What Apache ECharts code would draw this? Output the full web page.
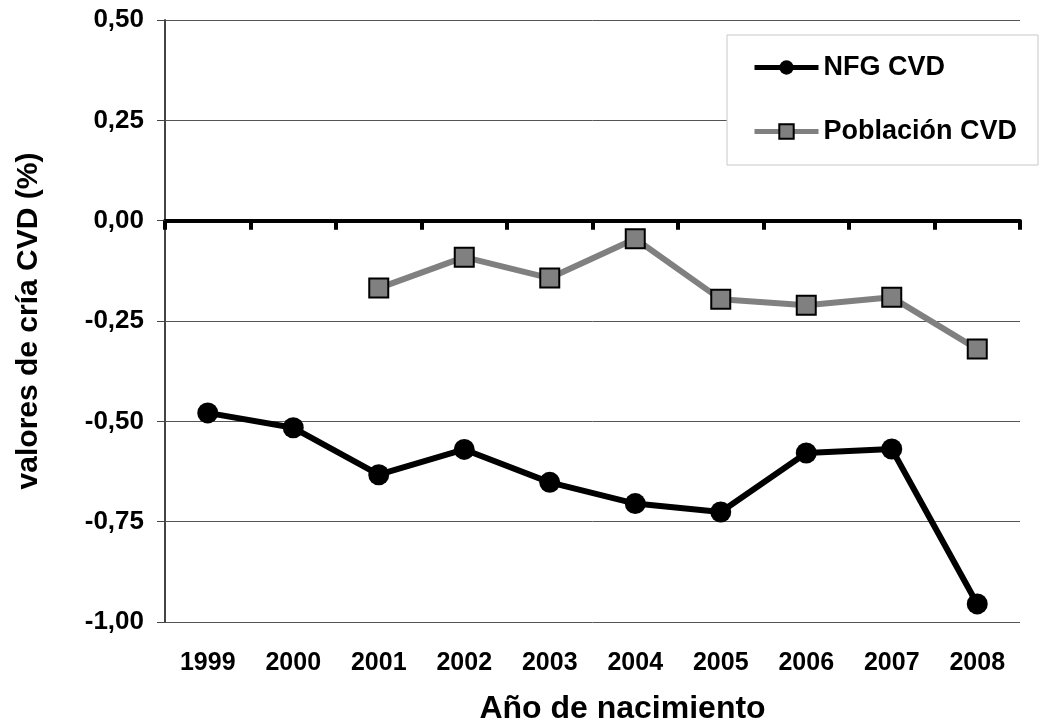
<!DOCTYPE html>
<html>
<head>
<meta charset="utf-8">
<script src="https://cdn.jsdelivr.net/npm/echarts@6/dist/echarts.min.js"></script>
<style>html,body{margin:0;padding:0;background:#fff;}#c{width:1042px;height:728px;}</style>
</head>
<body>
<div id="c"></div>
<script>
const years = ['1999','2000','2001','2002','2003','2004','2005','2006','2007','2008'];
const nfgCVD = [-0.479, -0.516, -0.633, -0.570, -0.652, -0.705, -0.726, -0.579, -0.569, -0.955];
const poblacionCVD = [null, null, -0.168, -0.091, -0.143, -0.045, -0.196, -0.211, -0.191, -0.320];
const yTicks = { min: -1.0, max: 0.5, interval: 0.25 };
const seriesNames = ['NFG CVD', 'Población CVD'];

const FONT = '"Liberation Sans", Arial, sans-serif';
const chart = echarts.init(document.getElementById('c'), null, { renderer: 'canvas' });
chart.setOption({
  animation: false,
  backgroundColor: '#ffffff',
  grid: { left: 165, right: 22, top: 20, bottom: 106, containLabel: false, outerBoundsMode: 'none' },
  legend: {
    data: seriesNames,
    orient: 'vertical',
    left: 727, top: 35,
    padding: [19, 21, 20, 25],
    itemGap: 37,
    itemWidth: 64, itemHeight: 18,
    backgroundColor: '#ffffff',
    borderColor: '#c8c8c8', borderWidth: 1,
    lineStyle: { width: 5 },
    textStyle: { fontFamily: FONT, fontWeight: 'bold', fontSize: 27, lineHeight: 26, color: '#000' }
  },
  xAxis: [
    {
      type: 'category', data: years, boundaryGap: true,
      axisLine: { onZero: true, lineStyle: { color: '#000', width: 4 } },
      axisTick: { show: true, length: 9, lineStyle: { color: '#000', width: 4 } },
      axisLabel: { show: false },
      splitLine: { show: false }
    },
    {
      type: 'category', data: years, boundaryGap: true, position: 'bottom',
      axisLine: { show: false, onZero: false },
      axisTick: { show: false },
      axisLabel: { show: true, margin: 29, fontFamily: FONT, fontWeight: 'bold', fontSize: 25, color: '#000' },
      splitLine: { show: false },
      name: 'Año de nacimiento', nameLocation: 'middle', nameGap: 71,
      nameTextStyle: { fontFamily: FONT, fontWeight: 'bold', fontSize: 32, color: '#000', padding: [0, 0, 0, 60] }
    }
  ],
  yAxis: {
    type: 'value', min: yTicks.min, max: yTicks.max, interval: yTicks.interval,
    axisLine: { show: true, lineStyle: { color: '#444', width: 2 } },
    axisTick: { show: true, length: 8, lineStyle: { color: '#444', width: 1 } },
    axisLabel: {
      margin: 21, fontFamily: FONT, fontWeight: 'bold', fontSize: 26, color: '#000',
      formatter: v => v.toFixed(2).replace('.', ',')
    },
    splitLine: { show: true, lineStyle: { color: '#555', width: 1 } },
    name: 'valores de cría CVD (%)', nameLocation: 'middle', nameGap: 121, nameRotate: 90,
    nameTextStyle: { fontFamily: FONT, fontWeight: 'bold', fontSize: 30, color: '#000' }
  },
  series: [
    {
      name: seriesNames[0], type: 'line', data: nfgCVD, xAxisIndex: 0,
      symbol: 'circle', symbolSize: 21,
      lineStyle: { color: '#000', width: 6 },
      itemStyle: { color: '#000' },
      z: 3
    },
    {
      name: seriesNames[1], type: 'line', data: poblacionCVD, xAxisIndex: 0,
      symbol: 'rect', symbolSize: 19,
      lineStyle: { color: '#808080', width: 6 },
      itemStyle: { color: '#808080', borderColor: '#000', borderWidth: 2 },
      z: 3
    }
  ]
});
</script>
</body>
</html>
